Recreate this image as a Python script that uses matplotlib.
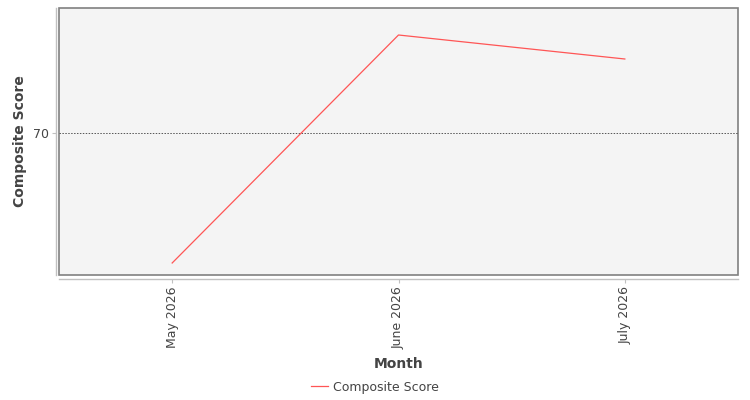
import matplotlib
matplotlib.use("Agg")
import matplotlib.pyplot as plt
from matplotlib.lines import Line2D

months = ["May 2026", "June 2026", "July 2026"]
composite_score = [61.3, 76.5, 74.9]
y_ticks = [70]

plt.rcParams['font.family'] = ['DejaVu Sans']

fig = plt.figure(figsize=(7.5, 4.0), dpi=100)
ax = fig.add_axes([59/750, 1-275/400, (738-59)/750, (275-8)/400])
ax.set_facecolor('#f4f4f4')
ax.patch.set_edgecolor('#808080')
ax.patch.set_linewidth(1.2)

x = list(range(len(months)))
ax.plot(x, composite_score, color='#ff5555', linewidth=0.9, label='Composite Score')

ax.set_xlim(-0.5, len(months) - 0.5)
ax.set_ylim(60.5, 78.3)
ax.set_xticks(x)
ax.set_xticklabels(months)
ax.set_yticks(y_ticks)
ax.set_yticklabels([str(t) for t in y_ticks])

for t in y_ticks:
    ax.axhline(t, color='#555555', linewidth=0.7, linestyle=(0, (1.5, 1.5)), zorder=1)

for s in ['top', 'right']:
    ax.spines[s].set_visible(False)
ax.spines['bottom'].set_position(('outward', 3))
ax.spines['left'].set_position(('outward', 2.2))
for s in ['bottom', 'left']:
    ax.spines[s].set_color('#c0c0c0')
    ax.spines[s].set_linewidth(1.0)
ax.tick_params(axis='both', colors='#c0c0c0', length=3, width=0.8,
               labelcolor='#444444', labelsize=9, pad=2)
ax.tick_params(axis='x', labelrotation=90)

ax.set_xlabel('Month', fontsize=10, fontweight='bold', color='#444444', labelpad=6)
ax.set_ylabel('Composite Score', fontsize=10, fontweight='bold', color='#444444', labelpad=4)

leg = fig.legend(handles=[Line2D([0], [0], color='#ff5555', linewidth=0.9)],
                 labels=['Composite Score'], loc='center', bbox_to_anchor=(375/750, 1-387/400),
                 frameon=False, fontsize=9, handlelength=1.4, handletextpad=0.4)
for t in leg.get_texts():
    t.set_color('#444444')

fig.savefig('out.png', dpi=100)
